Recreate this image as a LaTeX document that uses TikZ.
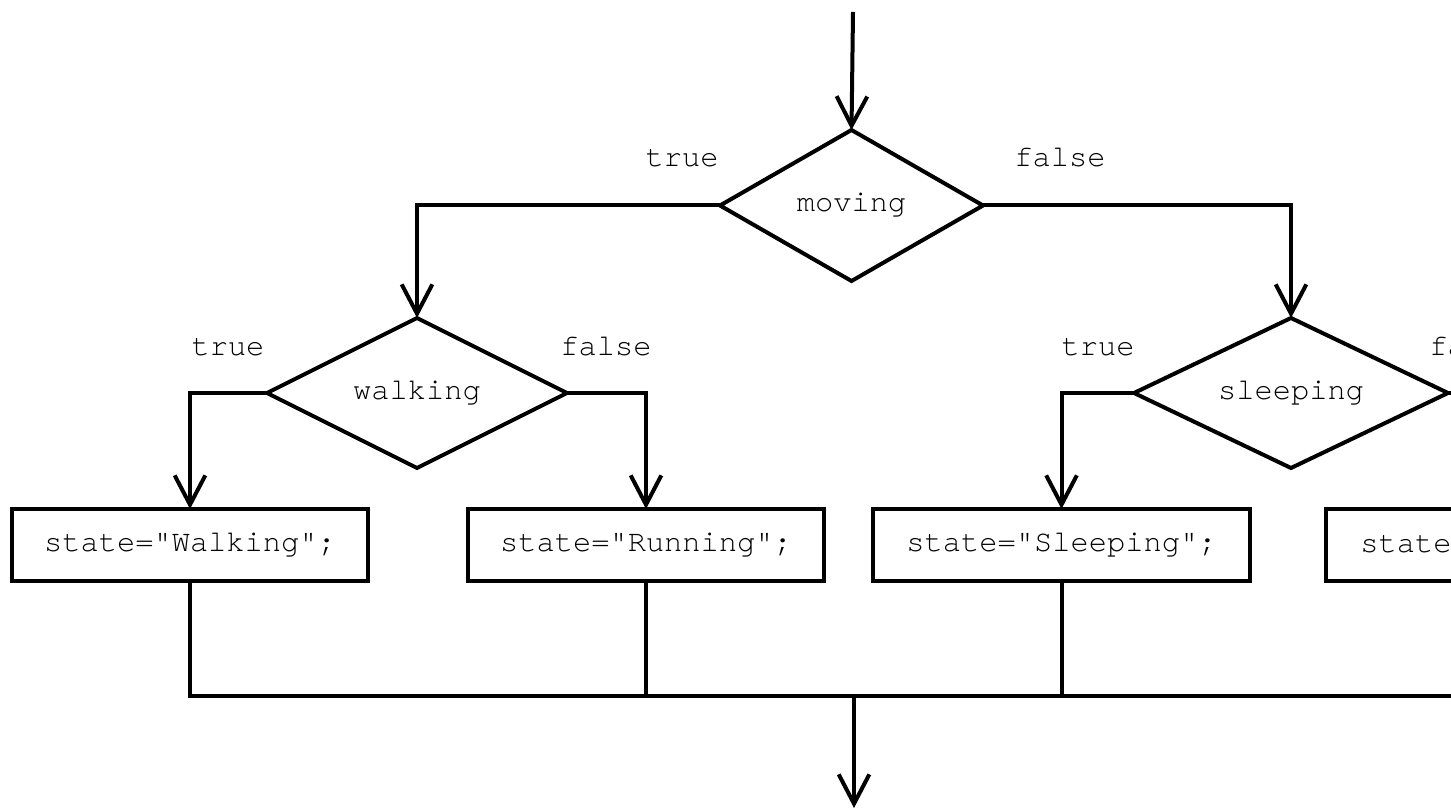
\documentclass[tikz,border=0pt]{standalone}
\usepackage{fontspec}
\newfontfamily\cour{TeX Gyre Cursor}
\usetikzlibrary{shapes.geometric,arrows.meta}
\begin{document}
\begin{tikzpicture}[x=0.75pt,y=-0.75pt,
  every node/.style={font=\cour\fontsize{22.8}{27}\selectfont},
  line/.style={line width=3pt},
  arr/.style={line, -{Straight Barb[length=22pt,width=23pt]}},
  dec/.style={draw, line, diamond, aspect=2, inner sep=0pt, outer sep=0pt},
  box/.style={draw, line, rectangle, minimum height=72*0.75pt, inner sep=0pt, outer sep=0pt},
  lab/.style={anchor=base, inner sep=0pt}]
\useasboundingbox (0,0) rectangle (1451,812);
\clip (0,0) rectangle (1451,812);

% decisions
\node[dec, minimum width=263*0.75pt, minimum height=151*0.75pt] (moving) at (851.5,205.5) {moving};
\node[dec, minimum width=300*0.75pt, minimum height=150*0.75pt] (walking) at (417,393) {walking};
\node[dec, minimum width=314*0.75pt, minimum height=150*0.75pt] (sleeping) at (1291,393) {sleeping};

% actions
\node[box, minimum width=356*0.75pt] (bw) at (190,545) {state="Walking";};
\node[box, minimum width=356*0.75pt] (br) at (646,545) {state="Running";};
\node[box, minimum width=377*0.75pt] (bs) at (1061.5,545) {state="Sleeping";};
\node[box, minimum width=388*0.75pt] (b4) at (1520,545) {};
\node[anchor=base west, inner sep=0pt] (t4) at (1360,552) {state};

% labels
\node[lab] (l1) at (682,167) {true};
\node[lab] (l2) at (1060,167) {false};
\node[lab] (l3) at (228,356) {true};
\node[lab] (l4) at (606,356) {false};
\node[lab] (l5) at (1098,356) {true};
\node[lab] (l6) at (1475,356) {false};

% coordinates
\coordinate (start) at (853,12);
\coordinate (merge) at (854,696);
\coordinate (finish) at (854,808);

% connectors
\draw[arr] (start) -- (moving.north);
\draw[arr] (moving.west) -| (walking.north);
\draw[arr] (moving.east) -| (sleeping.north);
\draw[arr] (walking.west) -| (bw.north);
\draw[arr] (walking.east) -| (br.north);
\draw[arr] (sleeping.west) -| (bs.north);
\draw[arr] (sleeping.east) -| (b4.north);
\draw[line] (bw.south) |- (merge);
\draw[line] (br.south) |- (merge);
\draw[line] (bs.south) |- (merge);
\draw[line] (b4.south) |- (merge);
\draw[arr] (merge) -- (finish);
\end{tikzpicture}
\end{document}
